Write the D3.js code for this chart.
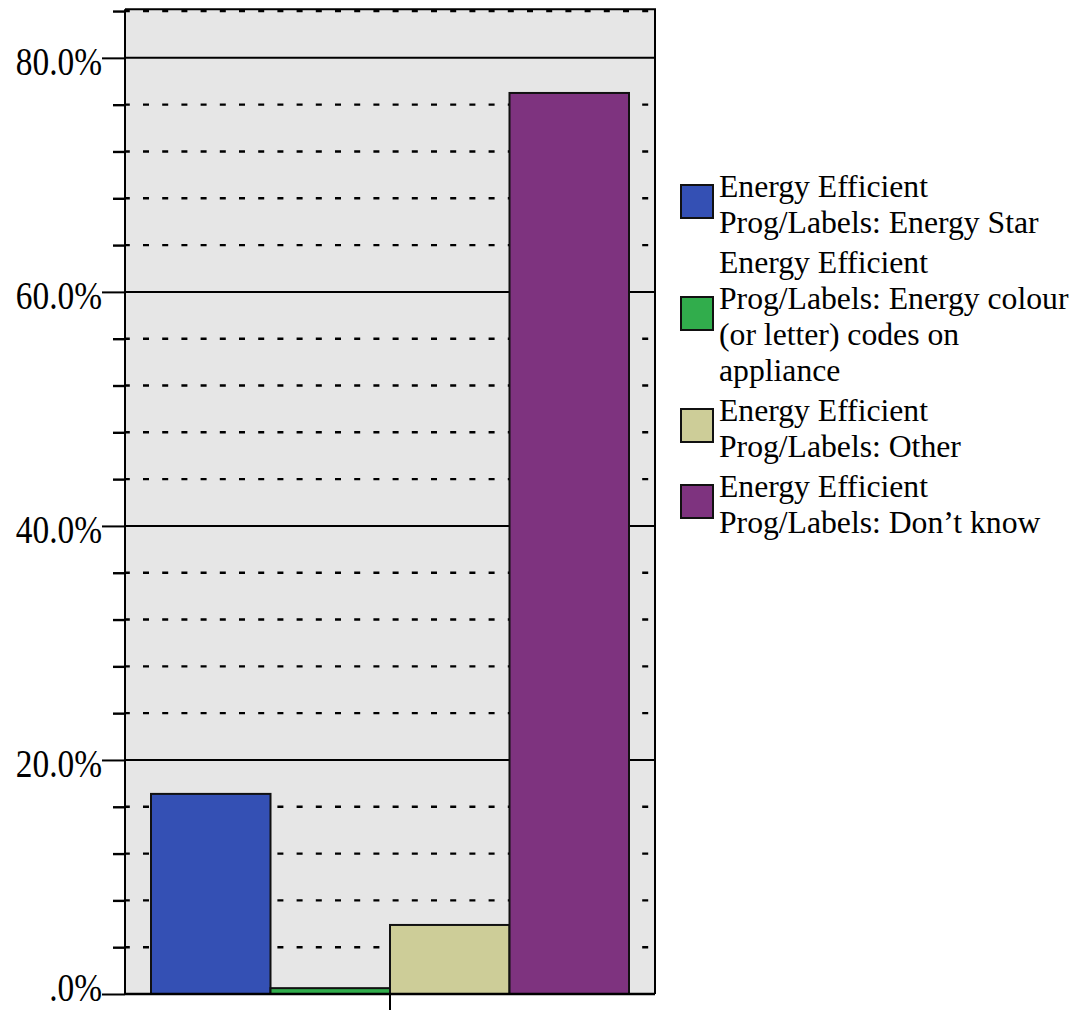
<!DOCTYPE html>
<html>
<head>
<meta charset="utf-8">
<script src="https://cdn.jsdelivr.net/npm/d3@7"></script>
</head>
<body style="margin:0">
<script>
// ---------------- data ----------------
const categories = [""];
const seriesNames = [
  "Energy Efficient Prog/Labels: Energy Star",
  "Energy Efficient Prog/Labels: Energy colour (or letter) codes on appliance",
  "Energy Efficient Prog/Labels: Other",
  "Energy Efficient Prog/Labels: Don’t know"
];
const legendLines = [
  ["Energy Efficient", "Prog/Labels: Energy Star"],
  ["Energy Efficient", "Prog/Labels: Energy colour", "(or letter) codes on", "appliance"],
  ["Energy Efficient", "Prog/Labels: Other"],
  ["Energy Efficient", "Prog/Labels: Don’t know"]
];
const values = [17.1, 0.5, 5.9, 77.0];
const colors = ["#3450b4", "#31ad4c", "#cdcd98", "#7e337f"];
const majorTicks = [0, 20, 40, 60, 80];
const tickLabels = [".0%", "20.0%", "40.0%", "60.0%", "80.0%"];
const minorTicks = [4, 8, 12, 16, 24, 28, 32, 36, 44, 48, 52, 56, 64, 68, 72, 76, 84];
const yMax = 84.15;

// ---------------- layout ----------------
const FONT = '"Liberation Serif"';
const W = 1072, H = 1010;
const plot = { left: 125, right: 655, top: 9.3, bottom: 994 };
const labelScaleX = 0.835;

const svg = d3.select("body").append("svg")
  .attr("width", W).attr("height", H).style("display", "block");

const y = d3.scaleLinear().domain([0, yMax]).range([plot.bottom, plot.top]);
const x0 = d3.scaleBand().domain(categories)
  .range([plot.left, plot.right]).paddingInner(0).paddingOuter(0.0544);
const x1 = d3.scaleBand().domain(seriesNames).range([0, x0.bandwidth()]).padding(0);

// background
svg.append("rect")
  .attr("x", plot.left).attr("y", plot.top)
  .attr("width", plot.right - plot.left).attr("height", plot.bottom - plot.top)
  .attr("fill", "#e6e6e6");

// dashed minor grid lines
svg.append("g").selectAll("line").data(minorTicks).join("line")
  .attr("x1", plot.left).attr("x2", plot.right)
  .attr("y1", d => y(d)).attr("y2", d => y(d))
  .attr("stroke", "#000").attr("stroke-width", 2.4)
  .attr("stroke-dasharray", "6,13.2")
  .attr("stroke-dashoffset", -18);

// solid major grid lines
svg.append("g").selectAll("line").data(majorTicks.filter(d => d > 0)).join("line")
  .attr("x1", plot.left).attr("x2", plot.right)
  .attr("y1", d => y(d)).attr("y2", d => y(d))
  .attr("stroke", "#000").attr("stroke-width", 2);

// bars
const g = svg.append("g").attr("transform", `translate(${x0(categories[0])},0)`);
g.selectAll("rect").data(values).join("rect")
  .attr("x", (d, i) => x1(seriesNames[i]))
  .attr("width", x1.bandwidth())
  .attr("y", d => y(d))
  .attr("height", d => y(0) - y(d))
  .attr("fill", (d, i) => colors[i])
  .attr("stroke", "#111").attr("stroke-width", 2);

// frame (top and right)
svg.append("path")
  .attr("d", `M${plot.left},${plot.top}H${plot.right}V${plot.bottom}`)
  .attr("fill", "none").attr("stroke", "#000").attr("stroke-width", 2);

// minor y ticks
const yMinor = d3.axisLeft(y).tickValues(minorTicks).tickSize(12).tickFormat("");
svg.append("g").attr("transform", `translate(${plot.left},0)`).call(yMinor)
  .call(s => s.select(".domain").remove())
  .call(s => s.selectAll(".tick line").attr("stroke", "#000").attr("stroke-width", 2.4));

// major y axis
const yAxis = d3.axisLeft(y).tickValues(majorTicks)
  .tickFormat(d => tickLabels[majorTicks.indexOf(d)])
  .tickSize(23).tickPadding(0).tickSizeOuter(0);
const ya = svg.append("g").attr("transform", `translate(${plot.left},0)`).call(yAxis);
ya.attr("font-family", FONT).attr("font-size", 40);
ya.select(".domain").attr("stroke", "#000").attr("stroke-width", 2)
  .attr("d", `M0,${plot.top}V${plot.bottom}`);
ya.selectAll(".tick line").attr("stroke", "#000").attr("stroke-width", 2);
ya.selectAll(".tick text")
  .style("font-family", FONT)
  .style("font-size", "40px")
  .attr("fill", "#000")
  .attr("x", -23 / labelScaleX)
  .attr("dy", d => d === 0 ? 6 : 17)
  .attr("transform", `scale(${labelScaleX},1)`);

// x axis
const xAxis = d3.axisBottom(x0).tickSize(22).tickSizeOuter(0).tickFormat("");
const xa = svg.append("g").attr("transform", `translate(0,${plot.bottom})`).call(xAxis);
xa.select(".domain").attr("stroke", "#000").attr("stroke-width", 2.6)
  .attr("d", `M${plot.left},0H${plot.right}`);
xa.selectAll(".tick line").attr("stroke", "#000").attr("stroke-width", 2);

// legend
const legend = svg.append("g");
const lineH = 36, itemGap = 4, firstBaseline = 197;
let baseline = firstBaseline;
legendLines.forEach((lines, i) => {
  const item = legend.append("g");
  const midBaseline = baseline + (lines.length - 1) * lineH / 2;
  item.append("rect")
    .attr("x", 681).attr("y", midBaseline - 13.5 - 16.5)
    .attr("width", 32).attr("height", 33)
    .attr("fill", colors[i]).attr("stroke", "#111").attr("stroke-width", 2);
  lines.forEach((ln, j) => {
    item.append("text")
      .style("font-family", FONT)
      .style("font-size", "32px")
      .attr("fill", "#000")
      .attr("transform", `translate(719,${baseline + j * lineH}) scale(0.99,1)`)
      .text(ln);
  });
  baseline += lines.length * lineH + itemGap;
});
</script>
</body>
</html>
